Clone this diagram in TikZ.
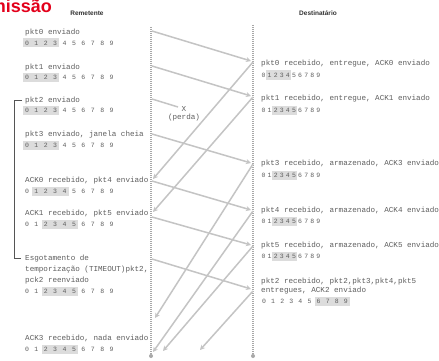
\documentclass[tikz,border=0pt]{standalone}
\usepackage{fontspec}
\setmainfont{Liberation Serif}
\setsansfont{Liberation Sans}
\setmonofont{Liberation Mono}
\usetikzlibrary{arrows.meta}
\definecolor{txt}{HTML}{5E5E5E}
\definecolor{hdr}{HTML}{333333}
\definecolor{ln}{HTML}{C4C4C4}
\definecolor{dotc}{HTML}{A8A8A8}
\definecolor{winfill}{HTML}{DCDCDC}
\definecolor{ttl}{HTML}{E3001B}
\definecolor{brk}{HTML}{555555}
\tikzset{
  lbl/.style={anchor=base west, inner sep=0pt, text=txt, font=\ttfamily\fontsize{7.6}{9}\selectfont},
  hdrlbl/.style={inner sep=0pt, text=hdr, font=\sffamily\bfseries\fontsize{6.5}{8}\selectfont},
  digit/.style={inner sep=0pt, text=txt, font=\ttfamily\fontsize{6.5}{8}\selectfont},
  msg/.style={draw=ln, line width=1.5pt, -{Stealth[length=5pt,width=5pt]}},
  lostmsg/.style={draw=ln, line width=1.5pt},
  timeline/.style={draw=dotc, line width=1.4pt, dash pattern=on 1pt off 1pt},
  endmark/.style={circle, fill=dotc, inner sep=0pt, minimum size=4pt},
  bracket/.style={draw=brk, line width=0.6pt},
}
% #1 name, #2 x of digit 0, #3 spacing, #4 y, #5 first shaded, #6 last shaded, #7 half box width
\newcommand{\winrow}[7]{%
  \fill[winfill] ({#2+#3*#5-#7},{#4-4.5}) rectangle ({#2+#3*#6+#7},{#4+4.5});
  \foreach \i in {0,...,9} \node[digit] (#1-\i) at ({#2+#3*\i},#4) {\i};
}
\begin{document}
\begin{tikzpicture}[x=1pt,y=-1pt]
\useasboundingbox (0,0) rectangle (439,361);
\clip (0,0) rectangle (439,361);
\fill[white] (0,0) rectangle (439,361);

% title (cut at top-left)
\node[anchor=base east, inner sep=0pt, text=ttl, font=\sffamily\bfseries\fontsize{18}{20}\selectfont] (title) at (52,12.5) {missão};

% headers
\node[hdrlbl] (hsend) at (87,13) {Remetente};
\node[hdrlbl] (hrecv) at (318,13) {Destinatário};

% timelines
\coordinate (stop) at (151,27);
\coordinate (rtop) at (253,25);
\node[endmark] (send-end) at (151,356) {};
\node[endmark] (recv-end) at (253,356) {};
\draw[timeline] (stop) -- (send-end);
\draw[timeline] (rtop) -- (recv-end);

% sender labels
\node[lbl] (s0) at (25,34.5) {pkt0 enviado};
\winrow{ws0}{27}{9.4}{43}{0}{3}{4}
\node[lbl] (s1) at (25,69.5) {pkt1 enviado};
\winrow{ws1}{27}{9.4}{77.5}{0}{3}{4}
\node[lbl] (s2) at (25,102.5) {pkt2 enviado};
\winrow{ws2}{27}{9.4}{110.5}{0}{3}{4}
\node[lbl] (s3) at (25,136.5) {pkt3 enviado, janela cheia};
\winrow{ws3}{27}{9.4}{145}{0}{3}{4}
\node[lbl] (s4) at (25,182.5) {ACK0 recebido, pkt4 enviado};
\winrow{ws4}{27}{9.4}{191}{1}{4}{4}
\node[lbl] (s5) at (25,215.5) {ACK1 recebido, pkt5 enviado};
\winrow{ws5}{27}{9.4}{224}{2}{5}{4}
\node[lbl] (s6a) at (25,260.5) {Esgotamento de};
\node[lbl] (s6b) at (25,271.5) {temporização (TIMEOUT)pkt2,};
\node[lbl] (s6c) at (25,282.5) {pck2 reenviado};
\winrow{ws6}{27}{9.4}{291}{2}{5}{4}
\node[lbl] (s7) at (25,340.5) {ACK3 recebido, nada enviado};
\winrow{ws7}{27}{9.4}{349}{2}{5}{4}

% bracket
\coordinate (bt0) at (22,100);
\coordinate (bt1) at (14,100);
\coordinate (bb1) at (14,258);
\coordinate (bb0) at (21,258);
\draw[bracket] (bt0) -- (bt1) -- (bb1) -- (bb0);

% receiver labels
\node[lbl] (r0) at (261,65.5) {pkt0 recebido, entregue, ACK0 enviado};
\winrow{wr0}{263.5}{6.1}{75}{1}{4}{3.3}
\node[lbl] (r1) at (261,100.5) {pkt1 recebido, entregue, ACK1 enviado};
\winrow{wr1}{263.5}{6.1}{110}{2}{5}{3.3}
\node[lbl] (r3) at (261,165.5) {pkt3 recebido, armazenado, ACK3 enviado};
\winrow{wr3}{263.5}{6.1}{175}{2}{5}{3.3}
\node[lbl] (r4) at (261,212.5) {pkt4 recebido, armazenado, ACK4 enviado};
\winrow{wr4}{263.5}{6.1}{221}{2}{5}{3.3}
\node[lbl] (r5) at (261,247.5) {pkt5 recebido, armazenado, ACK5 enviado};
\winrow{wr5}{263.5}{6.1}{256}{2}{5}{3.3}
\node[lbl] (r2a) at (261,283) {pkt2 recebido, pkt2,pkt3,pkt4,pkt5};
\node[lbl] (r2b) at (261,292.5) {entregues, ACK2 enviado};
\winrow{wr2}{264}{9.1}{301}{6}{9}{4}

% data packets (sender -> receiver)
\coordinate (d0s) at (152,31);  \coordinate (d0r) at (251,61);
\coordinate (d1s) at (152,66);  \coordinate (d1r) at (251,96);
\coordinate (d2s) at (152,99);  \coordinate (d2x) at (178,107);
\coordinate (d3s) at (152,134); \coordinate (d3r) at (251,163);
\coordinate (d4s) at (152,181); \coordinate (d4r) at (251,210);
\coordinate (d5s) at (152,217); \coordinate (d5r) at (251,245);
\coordinate (d6s) at (152,259); \coordinate (d6r) at (251,289);
\draw[msg] (d0s) -- (d0r);
\draw[msg] (d1s) -- (d1r);
\draw[lostmsg] (d2s) -- (d2x);
\draw[msg] (d3s) -- (d3r);
\draw[msg] (d4s) -- (d4r);
\draw[msg] (d5s) -- (d5r);
\draw[msg] (d6s) -- (d6r);

% loss mark
\node[inner sep=0pt, text=txt, font=\ttfamily\fontsize{7.6}{9}\selectfont] (lossx) at (184,109) {X};
\node[inner sep=0pt, text=txt, font=\ttfamily\fontsize{7.6}{9}\selectfont] (lossp) at (184,118) {(perda)};

% ACKs (receiver -> sender)
\coordinate (a0r) at (253,62);  \coordinate (a0s) at (153,179);
\coordinate (a1r) at (253,97);  \coordinate (a1s) at (153,212);
\coordinate (a3r) at (253,164); \coordinate (a3s) at (155,318);
\coordinate (a4r) at (253,211); \coordinate (a4s) at (153,352);
\coordinate (a5r) at (253,246); \coordinate (a5s) at (163,351);
\coordinate (a2r) at (253,291); \coordinate (a2s) at (200,350);
\draw[msg] (a0r) -- (a0s);
\draw[msg] (a1r) -- (a1s);
\draw[msg] (a3r) -- (a3s);
\draw[msg] (a4r) -- (a4s);
\draw[msg] (a5r) -- (a5s);
\draw[msg] (a2r) -- (a2s);
\end{tikzpicture}
\end{document}
